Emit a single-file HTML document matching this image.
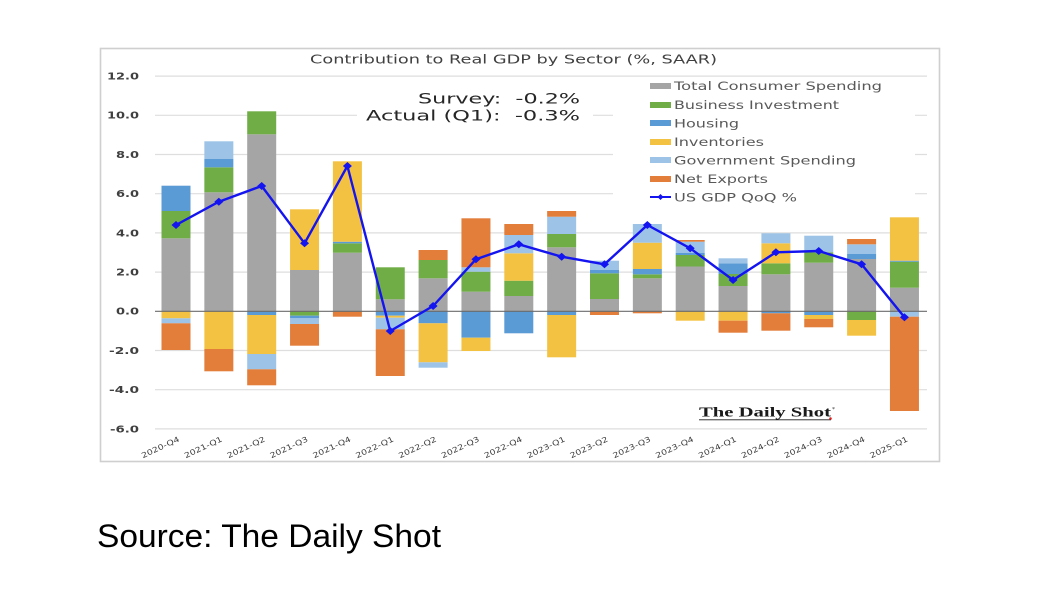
<!DOCTYPE html>
<html><head><meta charset="utf-8"><style>
html,body{margin:0;padding:0;background:#fff;}
svg{display:block;}
</style></head><body>
<svg width="1042" height="598" viewBox="0 0 1042 598" xmlns="http://www.w3.org/2000/svg">
<rect x="0" y="0" width="1042" height="598" fill="#fff"/>
<rect x="100.5" y="48.5" width="839" height="413" fill="#fff" stroke="#cfcfcf" stroke-width="1.6"/>
<!-- title -->
<text x="310" y="63.5" font-family="DejaVu Sans, sans-serif" font-size="12.5" fill="#404040" textLength="407" lengthAdjust="spacingAndGlyphs">Contribution to Real GDP by Sector (%, SAAR)</text>
<!-- gridlines -->
<g stroke="#dedede" stroke-width="1.2">
<line x1="155" y1="76.1" x2="927" y2="76.1"/>
<line x1="155" y1="115.3" x2="927" y2="115.3"/>
<line x1="155" y1="154.5" x2="927" y2="154.5"/>
<line x1="155" y1="193.7" x2="927" y2="193.7"/>
<line x1="155" y1="232.9" x2="927" y2="232.9"/>
<line x1="155" y1="272.1" x2="927" y2="272.1"/>
<line x1="155" y1="350.5" x2="927" y2="350.5"/>
<line x1="155" y1="389.7" x2="927" y2="389.7"/>
<line x1="155" y1="428.9" x2="927" y2="428.9"/>
</g>
<!-- boxes -->
<rect x="357" y="82" width="236" height="45" fill="#fff"/>
<rect x="613" y="79" width="302" height="128" fill="#fff"/>
<!-- y labels -->
<g font-family="DejaVu Sans, sans-serif" font-weight="bold" font-size="9.5" fill="#404040" text-anchor="end">
<text x="139" y="79.5" textLength="32" lengthAdjust="spacingAndGlyphs">12.0</text>
<text x="139" y="118.7" textLength="32" lengthAdjust="spacingAndGlyphs">10.0</text>
<text x="139" y="157.9" textLength="23" lengthAdjust="spacingAndGlyphs">8.0</text>
<text x="139" y="197.1" textLength="23" lengthAdjust="spacingAndGlyphs">6.0</text>
<text x="139" y="236.3" textLength="23" lengthAdjust="spacingAndGlyphs">4.0</text>
<text x="139" y="275.5" textLength="23" lengthAdjust="spacingAndGlyphs">2.0</text>
<text x="139" y="314.7" textLength="23" lengthAdjust="spacingAndGlyphs">0.0</text>
<text x="139" y="353.9" textLength="30" lengthAdjust="spacingAndGlyphs">-2.0</text>
<text x="139" y="393.1" textLength="30" lengthAdjust="spacingAndGlyphs">-4.0</text>
<text x="139" y="432.3" textLength="29" lengthAdjust="spacingAndGlyphs">-6.0</text>
</g>
<!-- bars -->
<g>
<!-- 0 -->
<rect x="161.5" y="238.3" width="29" height="73" fill="#a5a5a5"/>
<rect x="161.5" y="211" width="29" height="27.3" fill="#70ad47"/>
<rect x="161.5" y="185.7" width="29" height="25.3" fill="#5b9bd5"/>
<rect x="161.5" y="311.3" width="29" height="7" fill="#f4c242"/>
<rect x="161.5" y="318.3" width="29" height="5" fill="#9dc3e6"/>
<rect x="161.5" y="323.3" width="29" height="26.7" fill="#e27d3a"/>
<!-- 1 -->
<rect x="204.35" y="192.3" width="29" height="119" fill="#a5a5a5"/>
<rect x="204.35" y="167.3" width="29" height="25" fill="#70ad47"/>
<rect x="204.35" y="159" width="29" height="8.3" fill="#5b9bd5"/>
<rect x="204.35" y="141.3" width="29" height="17.7" fill="#9dc3e6"/>
<rect x="204.35" y="311.3" width="29" height="37.7" fill="#f4c242"/>
<rect x="204.35" y="349" width="29" height="22.3" fill="#e27d3a"/>
<!-- 2 -->
<rect x="247.2" y="134.3" width="29" height="177" fill="#a5a5a5"/>
<rect x="247.2" y="111.3" width="29" height="23" fill="#70ad47"/>
<rect x="247.2" y="311.3" width="29" height="3.7" fill="#5b9bd5"/>
<rect x="247.2" y="315" width="29" height="39" fill="#f4c242"/>
<rect x="247.2" y="354" width="29" height="15.3" fill="#9dc3e6"/>
<rect x="247.2" y="369.3" width="29" height="16" fill="#e27d3a"/>
<!-- 3 -->
<rect x="290.05" y="270" width="29" height="41.3" fill="#a5a5a5"/>
<rect x="290.05" y="209.3" width="29" height="60.7" fill="#f4c242"/>
<rect x="290.05" y="311.3" width="29" height="4.4" fill="#70ad47"/>
<rect x="290.05" y="315.7" width="29" height="2.6" fill="#5b9bd5"/>
<rect x="290.05" y="318.3" width="29" height="5.7" fill="#9dc3e6"/>
<rect x="290.05" y="324" width="29" height="21.7" fill="#e27d3a"/>
<!-- 4 -->
<rect x="332.9" y="252.7" width="29" height="58.6" fill="#a5a5a5"/>
<rect x="332.9" y="243.3" width="29" height="9.4" fill="#70ad47"/>
<rect x="332.9" y="241.7" width="29" height="1.6" fill="#5b9bd5"/>
<rect x="332.9" y="161.3" width="29" height="80.4" fill="#f4c242"/>
<rect x="332.9" y="311.3" width="29" height="5.4" fill="#e27d3a"/>
<!-- 5 -->
<rect x="375.75" y="299.3" width="29" height="12" fill="#a5a5a5"/>
<rect x="375.75" y="267.3" width="29" height="32" fill="#70ad47"/>
<rect x="375.75" y="311.3" width="29" height="4.4" fill="#5b9bd5"/>
<rect x="375.75" y="315.7" width="29" height="2" fill="#f4c242"/>
<rect x="375.75" y="317.7" width="29" height="11.6" fill="#9dc3e6"/>
<rect x="375.75" y="329.3" width="29" height="46.7" fill="#e27d3a"/>
<!-- 6 -->
<rect x="418.6" y="278.3" width="29" height="33" fill="#a5a5a5"/>
<rect x="418.6" y="260" width="29" height="18.3" fill="#70ad47"/>
<rect x="418.6" y="250" width="29" height="10" fill="#e27d3a"/>
<rect x="418.6" y="311.3" width="29" height="12" fill="#5b9bd5"/>
<rect x="418.6" y="323.3" width="29" height="39" fill="#f4c242"/>
<rect x="418.6" y="362.3" width="29" height="5.4" fill="#9dc3e6"/>
<!-- 7 -->
<rect x="461.45" y="291.7" width="29" height="19.6" fill="#a5a5a5"/>
<rect x="461.45" y="271.7" width="29" height="20" fill="#70ad47"/>
<rect x="461.45" y="267.3" width="29" height="4.4" fill="#9dc3e6"/>
<rect x="461.45" y="218.3" width="29" height="49" fill="#e27d3a"/>
<rect x="461.45" y="311.3" width="29" height="26.4" fill="#5b9bd5"/>
<rect x="461.45" y="337.7" width="29" height="13.3" fill="#f4c242"/>
<!-- 8 -->
<rect x="504.3" y="296" width="29" height="15.3" fill="#a5a5a5"/>
<rect x="504.3" y="280.7" width="29" height="15.3" fill="#70ad47"/>
<rect x="504.3" y="253.3" width="29" height="27.4" fill="#f4c242"/>
<rect x="504.3" y="235" width="29" height="18.3" fill="#9dc3e6"/>
<rect x="504.3" y="224" width="29" height="11" fill="#e27d3a"/>
<rect x="504.3" y="311.3" width="29" height="22" fill="#5b9bd5"/>
<!-- 9 -->
<rect x="547.15" y="247.3" width="29" height="64" fill="#a5a5a5"/>
<rect x="547.15" y="234" width="29" height="13.3" fill="#70ad47"/>
<rect x="547.15" y="216.7" width="29" height="17.3" fill="#9dc3e6"/>
<rect x="547.15" y="211" width="29" height="5.7" fill="#e27d3a"/>
<rect x="547.15" y="311.3" width="29" height="3.7" fill="#5b9bd5"/>
<rect x="547.15" y="315" width="29" height="42.3" fill="#f4c242"/>
<!-- 10 -->
<rect x="590" y="299" width="29" height="12.3" fill="#a5a5a5"/>
<rect x="590" y="273.3" width="29" height="25.7" fill="#70ad47"/>
<rect x="590" y="270" width="29" height="3.3" fill="#5b9bd5"/>
<rect x="590" y="260.7" width="29" height="9.3" fill="#9dc3e6"/>
<rect x="590" y="311.3" width="29" height="3.7" fill="#e27d3a"/>
<!-- 11 -->
<rect x="632.85" y="278.3" width="29" height="33" fill="#a5a5a5"/>
<rect x="632.85" y="274.3" width="29" height="4" fill="#70ad47"/>
<rect x="632.85" y="269" width="29" height="5.3" fill="#5b9bd5"/>
<rect x="632.85" y="242.7" width="29" height="26.3" fill="#f4c242"/>
<rect x="632.85" y="224" width="29" height="18.7" fill="#9dc3e6"/>
<rect x="632.85" y="311.3" width="29" height="2" fill="#e27d3a"/>
<!-- 12 -->
<rect x="675.7" y="266.5" width="29" height="44.8" fill="#a5a5a5"/>
<rect x="675.7" y="255" width="29" height="11.5" fill="#70ad47"/>
<rect x="675.7" y="253" width="29" height="2" fill="#5b9bd5"/>
<rect x="675.7" y="241.7" width="29" height="11.3" fill="#9dc3e6"/>
<rect x="675.7" y="240" width="29" height="1.7" fill="#e27d3a"/>
<rect x="675.7" y="311.3" width="29" height="9.4" fill="#f4c242"/>
<!-- 13 -->
<rect x="718.55" y="286" width="29" height="25.3" fill="#a5a5a5"/>
<rect x="718.55" y="274" width="29" height="12" fill="#70ad47"/>
<rect x="718.55" y="263.3" width="29" height="10.7" fill="#5b9bd5"/>
<rect x="718.55" y="258.3" width="29" height="5" fill="#9dc3e6"/>
<rect x="718.55" y="311.3" width="29" height="9.4" fill="#f4c242"/>
<rect x="718.55" y="320.7" width="29" height="12" fill="#e27d3a"/>
<!-- 14 -->
<rect x="761.4" y="274.3" width="29" height="37" fill="#a5a5a5"/>
<rect x="761.4" y="263.3" width="29" height="11" fill="#70ad47"/>
<rect x="761.4" y="243.3" width="29" height="20" fill="#f4c242"/>
<rect x="761.4" y="233.3" width="29" height="10" fill="#9dc3e6"/>
<rect x="761.4" y="311.3" width="29" height="2" fill="#5b9bd5"/>
<rect x="761.4" y="313.3" width="29" height="17.4" fill="#e27d3a"/>
<!-- 15 -->
<rect x="804.25" y="262.7" width="29" height="48.6" fill="#a5a5a5"/>
<rect x="804.25" y="252.3" width="29" height="10.4" fill="#70ad47"/>
<rect x="804.25" y="235.7" width="29" height="16.6" fill="#9dc3e6"/>
<rect x="804.25" y="311.3" width="29" height="3.7" fill="#5b9bd5"/>
<rect x="804.25" y="315" width="29" height="4" fill="#f4c242"/>
<rect x="804.25" y="319" width="29" height="8.3" fill="#e27d3a"/>
<!-- 16 -->
<rect x="847.1" y="259" width="29" height="52.3" fill="#a5a5a5"/>
<rect x="847.1" y="254" width="29" height="5" fill="#5b9bd5"/>
<rect x="847.1" y="244.3" width="29" height="9.7" fill="#9dc3e6"/>
<rect x="847.1" y="239" width="29" height="5.3" fill="#e27d3a"/>
<rect x="847.1" y="311.3" width="29" height="8.7" fill="#70ad47"/>
<rect x="847.1" y="320" width="29" height="15.7" fill="#f4c242"/>
<!-- 17 -->
<rect x="889.95" y="287.7" width="29" height="23.6" fill="#a5a5a5"/>
<rect x="889.95" y="261.7" width="29" height="26" fill="#70ad47"/>
<rect x="889.95" y="260.7" width="29" height="1" fill="#5b9bd5"/>
<rect x="889.95" y="217.3" width="29" height="43.4" fill="#f4c242"/>
<rect x="889.95" y="311.3" width="29" height="5.4" fill="#9dc3e6"/>
<rect x="889.95" y="316.7" width="29" height="94.3" fill="#e27d3a"/>
</g>
<!-- zero axis -->
<line x1="155" y1="311.3" x2="927" y2="311.3" stroke="#6b6b6b" stroke-width="1.2"/>
<!-- GDP line -->
<polyline fill="none" stroke="#1414f0" stroke-width="2.4" stroke-linejoin="round" points="176,225 218.85,201.7 261.7,186 304.55,243.3 347.4,166 390.25,331 433.1,306 475.95,259.3 518.8,244.3 561.65,256.7 604.5,264.3 647.35,225 690.2,248.3 733.05,280 775.9,252.3 818.75,251 861.6,264.3 904.45,317.3"/>
<g fill="#1414f0">
<path d="M176 221 l4.5 4 l-4.5 4 l-4.5 -4z"/>
<path d="M218.85 197.7 l4.5 4 l-4.5 4 l-4.5 -4z"/>
<path d="M261.7 182 l4.5 4 l-4.5 4 l-4.5 -4z"/>
<path d="M304.55 239.3 l4.5 4 l-4.5 4 l-4.5 -4z"/>
<path d="M347.4 162 l4.5 4 l-4.5 4 l-4.5 -4z"/>
<path d="M390.25 327 l4.5 4 l-4.5 4 l-4.5 -4z"/>
<path d="M433.1 302 l4.5 4 l-4.5 4 l-4.5 -4z"/>
<path d="M475.95 255.3 l4.5 4 l-4.5 4 l-4.5 -4z"/>
<path d="M518.8 240.3 l4.5 4 l-4.5 4 l-4.5 -4z"/>
<path d="M561.65 252.7 l4.5 4 l-4.5 4 l-4.5 -4z"/>
<path d="M604.5 260.3 l4.5 4 l-4.5 4 l-4.5 -4z"/>
<path d="M647.35 221 l4.5 4 l-4.5 4 l-4.5 -4z"/>
<path d="M690.2 244.3 l4.5 4 l-4.5 4 l-4.5 -4z"/>
<path d="M733.05 276 l4.5 4 l-4.5 4 l-4.5 -4z"/>
<path d="M775.9 248.3 l4.5 4 l-4.5 4 l-4.5 -4z"/>
<path d="M818.75 247 l4.5 4 l-4.5 4 l-4.5 -4z"/>
<path d="M861.6 260.3 l4.5 4 l-4.5 4 l-4.5 -4z"/>
<path d="M904.45 313.3 l4.5 4 l-4.5 4 l-4.5 -4z"/>
</g>
<!-- survey text -->
<g font-family="DejaVu Sans, sans-serif" font-size="14.5" fill="#262626">
<text x="418" y="103.3" textLength="162" lengthAdjust="spacingAndGlyphs">Survey:&#160;&#160;-0.2%</text>
<text x="366" y="120.5" textLength="214" lengthAdjust="spacingAndGlyphs">Actual (Q1):&#160;&#160;-0.3%</text>
</g>
<!-- legend -->
<g>
<rect x="650" y="83" width="21" height="6" fill="#a5a5a5"/>
<rect x="650" y="102" width="21" height="6" fill="#70ad47"/>
<rect x="650" y="120" width="21" height="6" fill="#5b9bd5"/>
<rect x="650" y="139" width="21" height="6" fill="#f4c242"/>
<rect x="650" y="157" width="21" height="6" fill="#9dc3e6"/>
<rect x="650" y="176" width="21" height="6" fill="#e27d3a"/>
<line x1="650" y1="197" x2="671" y2="197" stroke="#1414f0" stroke-width="2"/>
<path d="M660.5 194 l3 3 l-3 3 l-3 -3z" fill="#1414f0"/>
</g>
<g font-family="DejaVu Sans, sans-serif" font-size="11.5" fill="#595959">
<text x="674" y="90" textLength="208" lengthAdjust="spacingAndGlyphs">Total Consumer Spending</text>
<text x="674" y="109" textLength="165" lengthAdjust="spacingAndGlyphs">Business Investment</text>
<text x="674" y="127.5" textLength="65" lengthAdjust="spacingAndGlyphs">Housing</text>
<text x="674" y="146" textLength="90" lengthAdjust="spacingAndGlyphs">Inventories</text>
<text x="674" y="164.5" textLength="182" lengthAdjust="spacingAndGlyphs">Government Spending</text>
<text x="674" y="183" textLength="94" lengthAdjust="spacingAndGlyphs">Net Exports</text>
<text x="674" y="201.5" textLength="123" lengthAdjust="spacingAndGlyphs">US GDP QoQ %</text>
</g>
<!-- x labels -->
<g font-family="DejaVu Sans, sans-serif" font-size="7.5" fill="#404040" text-anchor="end">
<text transform="translate(180,441) rotate(-25)" textLength="41" lengthAdjust="spacingAndGlyphs">2020-Q4</text>
<text transform="translate(222.85,441) rotate(-25)" textLength="41" lengthAdjust="spacingAndGlyphs">2021-Q1</text>
<text transform="translate(265.7,441) rotate(-25)" textLength="41" lengthAdjust="spacingAndGlyphs">2021-Q2</text>
<text transform="translate(308.55,441) rotate(-25)" textLength="41" lengthAdjust="spacingAndGlyphs">2021-Q3</text>
<text transform="translate(351.4,441) rotate(-25)" textLength="41" lengthAdjust="spacingAndGlyphs">2021-Q4</text>
<text transform="translate(394.25,441) rotate(-25)" textLength="41" lengthAdjust="spacingAndGlyphs">2022-Q1</text>
<text transform="translate(437.1,441) rotate(-25)" textLength="41" lengthAdjust="spacingAndGlyphs">2022-Q2</text>
<text transform="translate(479.95,441) rotate(-25)" textLength="41" lengthAdjust="spacingAndGlyphs">2022-Q3</text>
<text transform="translate(522.8,441) rotate(-25)" textLength="41" lengthAdjust="spacingAndGlyphs">2022-Q4</text>
<text transform="translate(565.65,441) rotate(-25)" textLength="41" lengthAdjust="spacingAndGlyphs">2023-Q1</text>
<text transform="translate(608.5,441) rotate(-25)" textLength="41" lengthAdjust="spacingAndGlyphs">2023-Q2</text>
<text transform="translate(651.35,441) rotate(-25)" textLength="41" lengthAdjust="spacingAndGlyphs">2023-Q3</text>
<text transform="translate(694.2,441) rotate(-25)" textLength="41" lengthAdjust="spacingAndGlyphs">2023-Q4</text>
<text transform="translate(737.05,441) rotate(-25)" textLength="41" lengthAdjust="spacingAndGlyphs">2024-Q1</text>
<text transform="translate(779.9,441) rotate(-25)" textLength="41" lengthAdjust="spacingAndGlyphs">2024-Q2</text>
<text transform="translate(822.75,441) rotate(-25)" textLength="41" lengthAdjust="spacingAndGlyphs">2024-Q3</text>
<text transform="translate(865.6,441) rotate(-25)" textLength="41" lengthAdjust="spacingAndGlyphs">2024-Q4</text>
<text transform="translate(908.45,441) rotate(-25)" textLength="41" lengthAdjust="spacingAndGlyphs">2025-Q1</text>
</g>
<!-- Daily Shot logo -->
<text x="699" y="416.5" font-family="Liberation Serif, serif" font-weight="bold" font-size="13.5" fill="#1a1a1a" textLength="132" lengthAdjust="spacingAndGlyphs">The Daily Shot</text>
<line x1="699" y1="419.8" x2="831" y2="419.8" stroke="#1a1a1a" stroke-width="0.8"/>
<circle cx="830.5" cy="418.5" r="1.3" fill="#e02020"/>
<text x="832" y="411" font-family="Liberation Serif, serif" font-size="6" fill="#333">*</text>
<!-- source -->
<text x="97" y="547" font-family="Liberation Sans, sans-serif" font-size="32" fill="#000" textLength="344" lengthAdjust="spacingAndGlyphs">Source: The Daily Shot</text>
</svg>
</body></html>
